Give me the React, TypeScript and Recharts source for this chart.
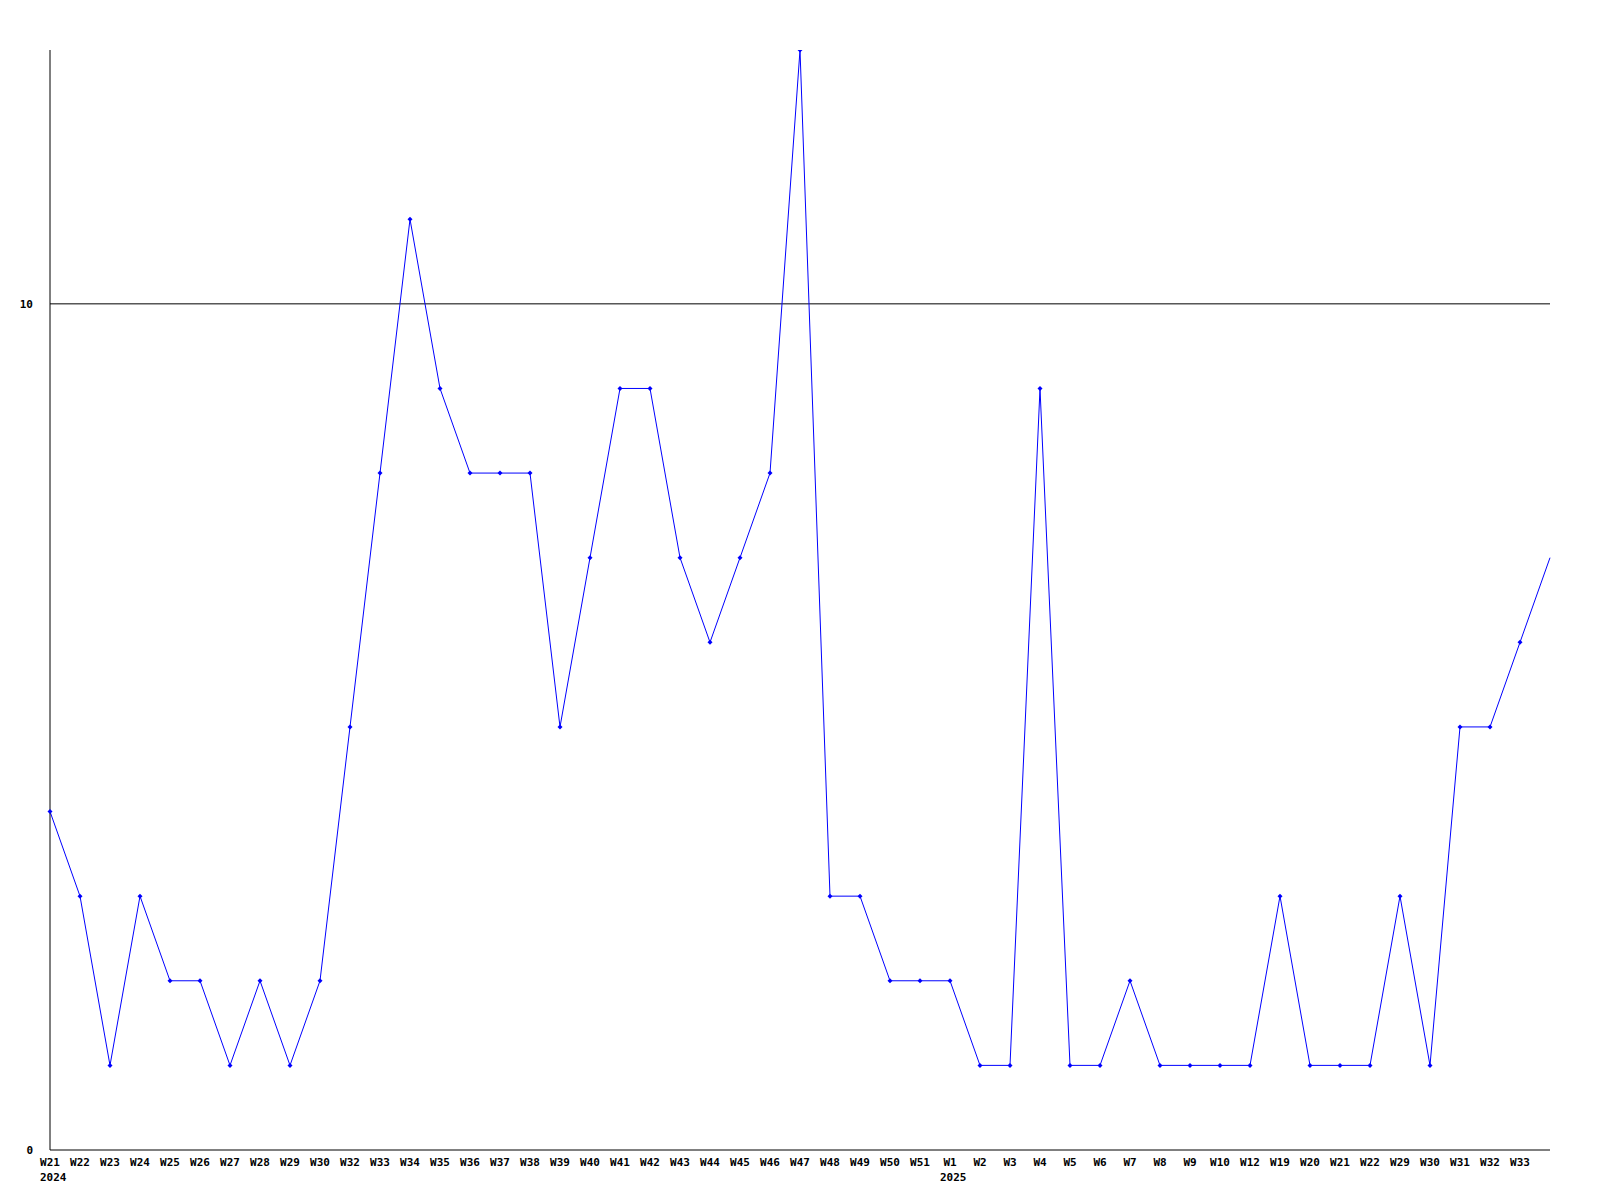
import React from 'react';
import { LineChart, Line, XAxis, YAxis, ReferenceLine } from 'recharts';

const weeks = [
  'W21', 'W22', 'W23', 'W24', 'W25', 'W26', 'W27', 'W28', 'W29', 'W30',
  'W32', 'W33', 'W34', 'W35', 'W36', 'W37', 'W38', 'W39', 'W40', 'W41',
  'W42', 'W43', 'W44', 'W45', 'W46', 'W47', 'W48', 'W49', 'W50', 'W51',
  'W1', 'W2', 'W3', 'W4', 'W5', 'W6', 'W7', 'W8', 'W9', 'W10',
  'W12', 'W19', 'W20', 'W21', 'W22', 'W29', 'W30', 'W31', 'W32', 'W33',
  '',
];

const counts = [
  4, 3, 1, 3, 2, 2, 1, 2, 1, 2,
  5, 8, 11, 9, 8, 8, 8, 5, 7, 9,
  9, 7, 6, 7, 8, 13, 3, 3, 2, 2,
  2, 1, 1, 9, 1, 1, 2, 1, 1, 1,
  1, 3, 1, 1, 1, 3, 1, 5, 5, 6,
  7,
];

// year shown under the first week of each year
const yearStarts: Record<number, string> = { 0: '2024', 30: '2025' };

const yTicks = [0, 10];

const data = weeks.map((w, i) => ({ key: `${i}`, week: w, value: counts[i] }));

const font = '"DejaVu Sans Mono", monospace';

const WeekTick = (props: any) => {
  const { x, y, payload } = props;
  const i = payload.index;
  const year = yearStarts[i];
  return (
    <g>
      <text x={x} y={y + 8} textAnchor="middle" fontFamily={font} fontWeight="bold" fontSize={11} fill="#000">
        {weeks[i]}
      </text>
      {year && (
        <text x={x - 10} y={y + 23} textAnchor="start" fontFamily={font} fontWeight="bold" fontSize={11} fill="#000">
          {year}
        </text>
      )}
    </g>
  );
};

const ValueTick = (props: any) => {
  const { y, payload } = props;
  return (
    <text x={33} y={y + 4} textAnchor="end" fontFamily={font} fontWeight="bold" fontSize={11} fill="#000">
      {payload.value}
    </text>
  );
};

const Marker = (props: any) => {
  const { cx, cy, index } = props;
  if (index === counts.length - 1) return <g key={`d-${index}`} />;
  return (
    <path
      key={`d-${index}`}
      d={`M${cx},${cy - 2.5} L${cx + 2.5},${cy} L${cx},${cy + 2.5} L${cx - 2.5},${cy} Z`}
      fill="#0000ff"
      stroke="none"
    />
  );
};

export default function App() {
  return (
    <div style={{ position: 'absolute', left: 0, top: 0, width: 1600, height: 1200, background: '#fff' }}>
      <LineChart width={1600} height={1200} data={data} margin={{ top: 50, right: 50, bottom: 10, left: 0 }}>
        <XAxis
          dataKey="key"
          interval={0}
          tick={<WeekTick />}
          tickLine={false}
          axisLine={{ stroke: '#000' }}
          height={40}
        />
        <YAxis
          domain={[0, 13]}
          ticks={yTicks}
          tick={<ValueTick />}
          tickLine={false}
          axisLine={{ stroke: '#000' }}
          width={50}
          allowDataOverflow
        />
        <ReferenceLine y={10} stroke="#000" />
        <Line
          type="linear"
          dataKey="value"
          stroke="#0000ff"
          strokeWidth={1}
          dot={<Marker />}
          activeDot={false}
          isAnimationActive={false}
        />
      </LineChart>
    </div>
  );
}
